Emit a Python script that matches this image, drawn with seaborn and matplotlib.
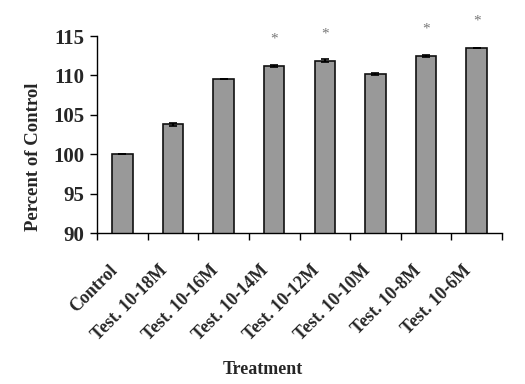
import matplotlib
matplotlib.use("Agg")
import matplotlib.pyplot as plt
import matplotlib.transforms as mtransforms
import seaborn as sns
import pandas as pd

categories = ["Control", "Test. 10-18M", "Test. 10-16M", "Test. 10-14M",
              "Test. 10-12M", "Test. 10-10M", "Test. 10-8M", "Test. 10-6M"]
values = [100.0, 103.8, 109.6, 111.2, 111.9, 110.2, 112.5, 113.5]
errors = [0.0, 0.2, 0.0, 0.15, 0.15, 0.15, 0.15, 0.0]
significant = [False, False, False, True, True, False, True, True]
y_ticks = [90, 95, 100, 105, 110, 115]

sns.set_theme(style="ticks")
plt.rcParams['font.family'] = ['Liberation Serif', 'DejaVu Serif']

df = pd.DataFrame({"Treatment": categories, "Percent": values})

fig = plt.figure(figsize=(5.25, 3.84), dpi=100)
ax = fig.add_axes([0.185, 0.393, 0.771, 0.513])

sns.barplot(data=df, x="Treatment", y="Percent", color="#999999",
            edgecolor="#111111", linewidth=1.2, width=0.4, ax=ax,
            saturation=1, errorbar=None)
ax.errorbar(range(len(values)), values, yerr=errors, fmt="none",
            ecolor="black", elinewidth=1.5, capsize=3, capthick=1.2)

for i, (v, s) in enumerate(zip(values, significant)):
    if s:
        ax.text(i, v + 3.4, "*", ha="center", va="center", fontsize=11,
                color="#777777", clip_on=False)

ax.set_ylim(90, 115)
ax.set_xlim(-0.5, len(categories) - 0.5)
ax.set_yticks(y_ticks)
ax.set_yticklabels([str(t) for t in y_ticks], fontsize=15, fontweight="bold")
ax.set_xticks([i - 0.5 for i in range(len(categories) + 1)])
ax.set_xticklabels([])
ax.set_xticks(range(len(categories)), minor=True)
ax.set_xticklabels(categories, minor=True, rotation=45, ha="right",
                   rotation_mode="anchor", fontsize=13, fontweight="bold")
ax.tick_params(axis="x", which="minor", length=0, pad=18)
ax.tick_params(axis="x", which="major", length=5, width=1, direction="out", color="black")
ax.tick_params(axis="y", length=5, width=1, direction="out", color="black", pad=4)
offset = mtransforms.ScaledTranslation(-14 / 100, -4 / 100, fig.dpi_scale_trans)
for lbl in ax.get_xticklabels(minor=True):
    lbl.set_transform(lbl.get_transform() + offset)

for side in ["top", "right"]:
    ax.spines[side].set_visible(False)
for side in ["left", "bottom"]:
    ax.spines[side].set_color("black")
    ax.spines[side].set_linewidth(1)

ax.set_ylabel("Percent of Control", fontsize=13.5, fontweight="bold")
ax.yaxis.set_label_coords(-0.136, 0.39)
ax.set_xlabel("Treatment", fontsize=13, fontweight="bold")
ax.xaxis.set_label_coords(0.41, -0.65)

fig.savefig("out.png", dpi=100)
